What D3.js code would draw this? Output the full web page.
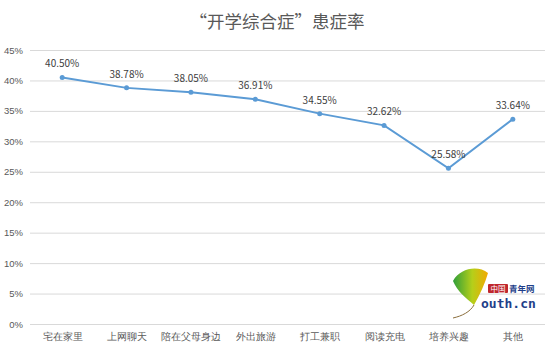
<!DOCTYPE html>
<html>
<head>
<meta charset="utf-8">
<script src="https://cdn.jsdelivr.net/npm/d3@7"></script>
<style>
  body { margin: 0; background: #fff; }
  svg { font-family: "Noto Sans CJK SC", "Microsoft YaHei", sans-serif; }
</style>
</head>
<body>
<div id="chart"></div>
<script>
const categories = ["宅在家里", "上网聊天", "陪在父母身边", "外出旅游", "打工兼职", "阅读充电", "培养兴趣", "其他"];
const rates = [40.50, 38.78, 38.05, 36.91, 34.55, 32.62, 25.58, 33.64];
const yTicks = [0, 5, 10, 15, 20, 25, 30, 35, 40, 45];
const title = "“开学综合症”患症率";

const width = 554;
const height = 351;
const margin = { top: 50, right: 9, bottom: 27, left: 30 };

const svg = d3.select("#chart")
  .append("svg")
  .attr("width", width)
  .attr("height", height);

const x = d3.scalePoint()
  .domain(categories)
  .range([margin.left, width - margin.right])
  .padding(0.5);

const y = d3.scaleLinear()
  .domain([0, 45])
  .range([height - margin.bottom, margin.top]);

svg.append("text")
  .attr("x", width / 2)
  .attr("y", 28)
  .attr("text-anchor", "middle")
  .attr("font-size", 17.5)
  .attr("fill", "#595959")
  .text(title);

// gridlines + y labels
const yAxis = d3.axisLeft(y)
  .tickValues(yTicks)
  .tickSize(-(width - margin.left - margin.right))
  .tickPadding(7)
  .tickFormat(d => d + "%");

svg.append("g")
  .attr("transform", `translate(${margin.left},0)`)
  .call(yAxis)
  .call(g => g.select(".domain").remove())
  .call(g => g.selectAll("line").attr("stroke", "#d9d9d9"))
  .call(g => g.selectAll("text").attr("fill", "#595959").attr("font-size", 9.5));

// x labels
const xAxis = d3.axisBottom(x).tickSize(0).tickPadding(9);
svg.append("g")
  .attr("transform", `translate(0,${height - margin.bottom})`)
  .call(xAxis)
  .call(g => g.select(".domain").remove())
  .call(g => g.selectAll("text").attr("fill", "#595959").attr("font-size", 10));

// logo watermark (rough)
const logo = svg.append("g").attr("transform", "translate(440,260)");
const grad = svg.append("defs").append("linearGradient")
  .attr("id", "leaf").attr("x1", "0").attr("y1", "0").attr("x2", "1").attr("y2", "0");
grad.append("stop").attr("offset", "0%").attr("stop-color", "#2f9e3a");
grad.append("stop").attr("offset", "55%").attr("stop-color", "#b5cf1a");
grad.append("stop").attr("offset", "100%").attr("stop-color", "#f2a900");
logo.append("path")
  .attr("d", "M13,21 C20,8 38,5 48,13 C45,24 40,34 34,45 C26,38 17,31 13,21 Z")
  .attr("fill", "url(#leaf)");
logo.append("path")
  .attr("d", "M34,45 C30,52 22,56 13,58")
  .attr("fill", "none")
  .attr("stroke", "#8a6d3b")
  .attr("stroke-width", 1);
logo.append("rect").attr("x", 48).attr("y", 24).attr("width", 20).attr("height", 9).attr("fill", "#c0272d").attr("rx", 1);
logo.append("text").attr("x", 58).attr("y", 31.5).attr("text-anchor", "middle")
  .attr("font-size", 7.5).attr("fill", "#fff").text("中国");
logo.append("text").attr("x", 69).attr("y", 32)
  .attr("font-size", 8.5).attr("font-weight", "bold").attr("fill", "#1f3f8a").text("青年网");
logo.append("text").attr("x", 41).attr("y", 48)
  .attr("font-family", "DejaVu Sans Mono, monospace")
  .attr("font-size", 13).attr("font-weight", "bold").attr("fill", "#1f3f8a").text("outh.cn");

// line
const line = d3.line()
  .x((d, i) => x(categories[i]))
  .y(d => y(d));

svg.append("path")
  .datum(rates)
  .attr("fill", "none")
  .attr("stroke", "#5b9bd5")
  .attr("stroke-width", 2)
  .attr("d", line);

svg.append("g")
  .selectAll("circle")
  .data(rates)
  .join("circle")
  .attr("cx", (d, i) => x(categories[i]))
  .attr("cy", d => y(d))
  .attr("r", 2.5)
  .attr("fill", "#5b9bd5");

svg.append("g")
  .selectAll("text")
  .data(rates)
  .join("text")
  .attr("x", (d, i) => x(categories[i]))
  .attr("y", d => y(d) - 10)
  .attr("text-anchor", "middle")
  .attr("font-size", 10)
  .attr("fill", "#404040")
  .text(d => d.toFixed(2) + "%");
</script>
</body>
</html>
